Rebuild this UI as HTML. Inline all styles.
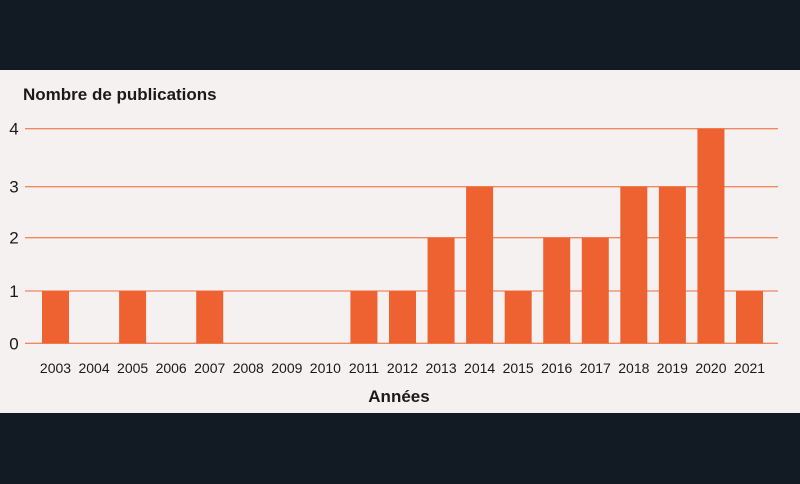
<!DOCTYPE html>
<html><head><meta charset="utf-8">
<style>
html,body{margin:0;padding:0;background:#121a24;width:800px;height:484px;overflow:hidden}
svg{display:block}
text{font-family:"Liberation Sans",sans-serif;fill:#1a1a1a}
</style></head>
<body>
<svg id="chart" width="800" height="484" viewBox="0 0 800 484" xmlns="http://www.w3.org/2000/svg">
<rect x="0" y="0" width="800" height="70" fill="#121a24"/>
<rect x="0" y="70" width="800" height="343" fill="#f5f1f0"/>
<text x="23" y="100" font-size="17" font-weight="bold">Nombre de publications</text>
<text x="399" y="402" font-size="17" font-weight="bold" text-anchor="middle">Années</text>
<g id="grid"></g>
<g id="bars"></g>
<g id="xlabels"></g>
</svg>
<script>
const categories = ["2003","2004","2005","2006","2007","2008","2009","2010","2011","2012","2013","2014","2015","2016","2017","2018","2019","2020","2021"];
const values = [1,0,1,0,1,0,0,0,1,1,2,3,1,2,2,3,3,4,1];
const yTicks = [0,1,2,3,4];
const yTickLabels = ["0","1","2","3","4"];

const NS = "http://www.w3.org/2000/svg";
const x0 = 55.5, step = (749.5 - 55.5) / (categories.length - 1), barW = 27;
function xScale(i){ return x0 + i * step; }
// axis pixel stops of the (slightly uneven) original axis, piecewise-linear scale
const yStops = [343.3, 291, 237.7, 186.7, 128.7];
function yScale(v){
  const n = yStops.length - 1;
  if (v <= 0) return yStops[0] - v * (yStops[0] - yStops[1]);
  if (v >= n) return yStops[n] - (v - n) * (yStops[n-1] - yStops[n]);
  const k = Math.floor(v), f = v - k;
  return yStops[k] + f * (yStops[k+1] - yStops[k]);
}

const grid = document.getElementById('grid');
yTicks.forEach((t, k) => {
  const l = document.createElementNS(NS, 'line');
  
  
  l.setAttribute('x1', 25); l.setAttribute('x2', 778);
  l.setAttribute('y1', yScale(t)); l.setAttribute('y2', yScale(t));
  l.setAttribute('stroke', '#f0875f'); l.setAttribute('stroke-width', '1.3');
  grid.appendChild(l);
  const tx = document.createElementNS(NS, 'text');
  
  
  tx.setAttribute('x', 14); tx.setAttribute('y', yScale(t) + 6);
  tx.setAttribute('font-size', '17'); tx.setAttribute('text-anchor', 'middle');
  tx.textContent = yTickLabels[k];
  grid.appendChild(tx);
});

const bars = document.getElementById('bars');
const xl = document.getElementById('xlabels');
categories.forEach((c, i) => {
  const v = values[i];
  if (v > 0) {
    const r = document.createElementNS(NS, 'rect');
    
    
    r.setAttribute('x', xScale(i) - barW / 2);
    r.setAttribute('y', yScale(v));
    r.setAttribute('width', barW);
    r.setAttribute('height', yScale(0) - yScale(v));
    r.setAttribute('fill', '#ee6232');
    bars.appendChild(r);
  }
  const t = document.createElementNS(NS, 'text');
  
  
  t.setAttribute('x', xScale(i)); t.setAttribute('y', 373);
  t.setAttribute('font-size', '14'); t.setAttribute('text-anchor', 'middle');
  t.textContent = c;
  xl.appendChild(t);
});
</script>
</body></html>
